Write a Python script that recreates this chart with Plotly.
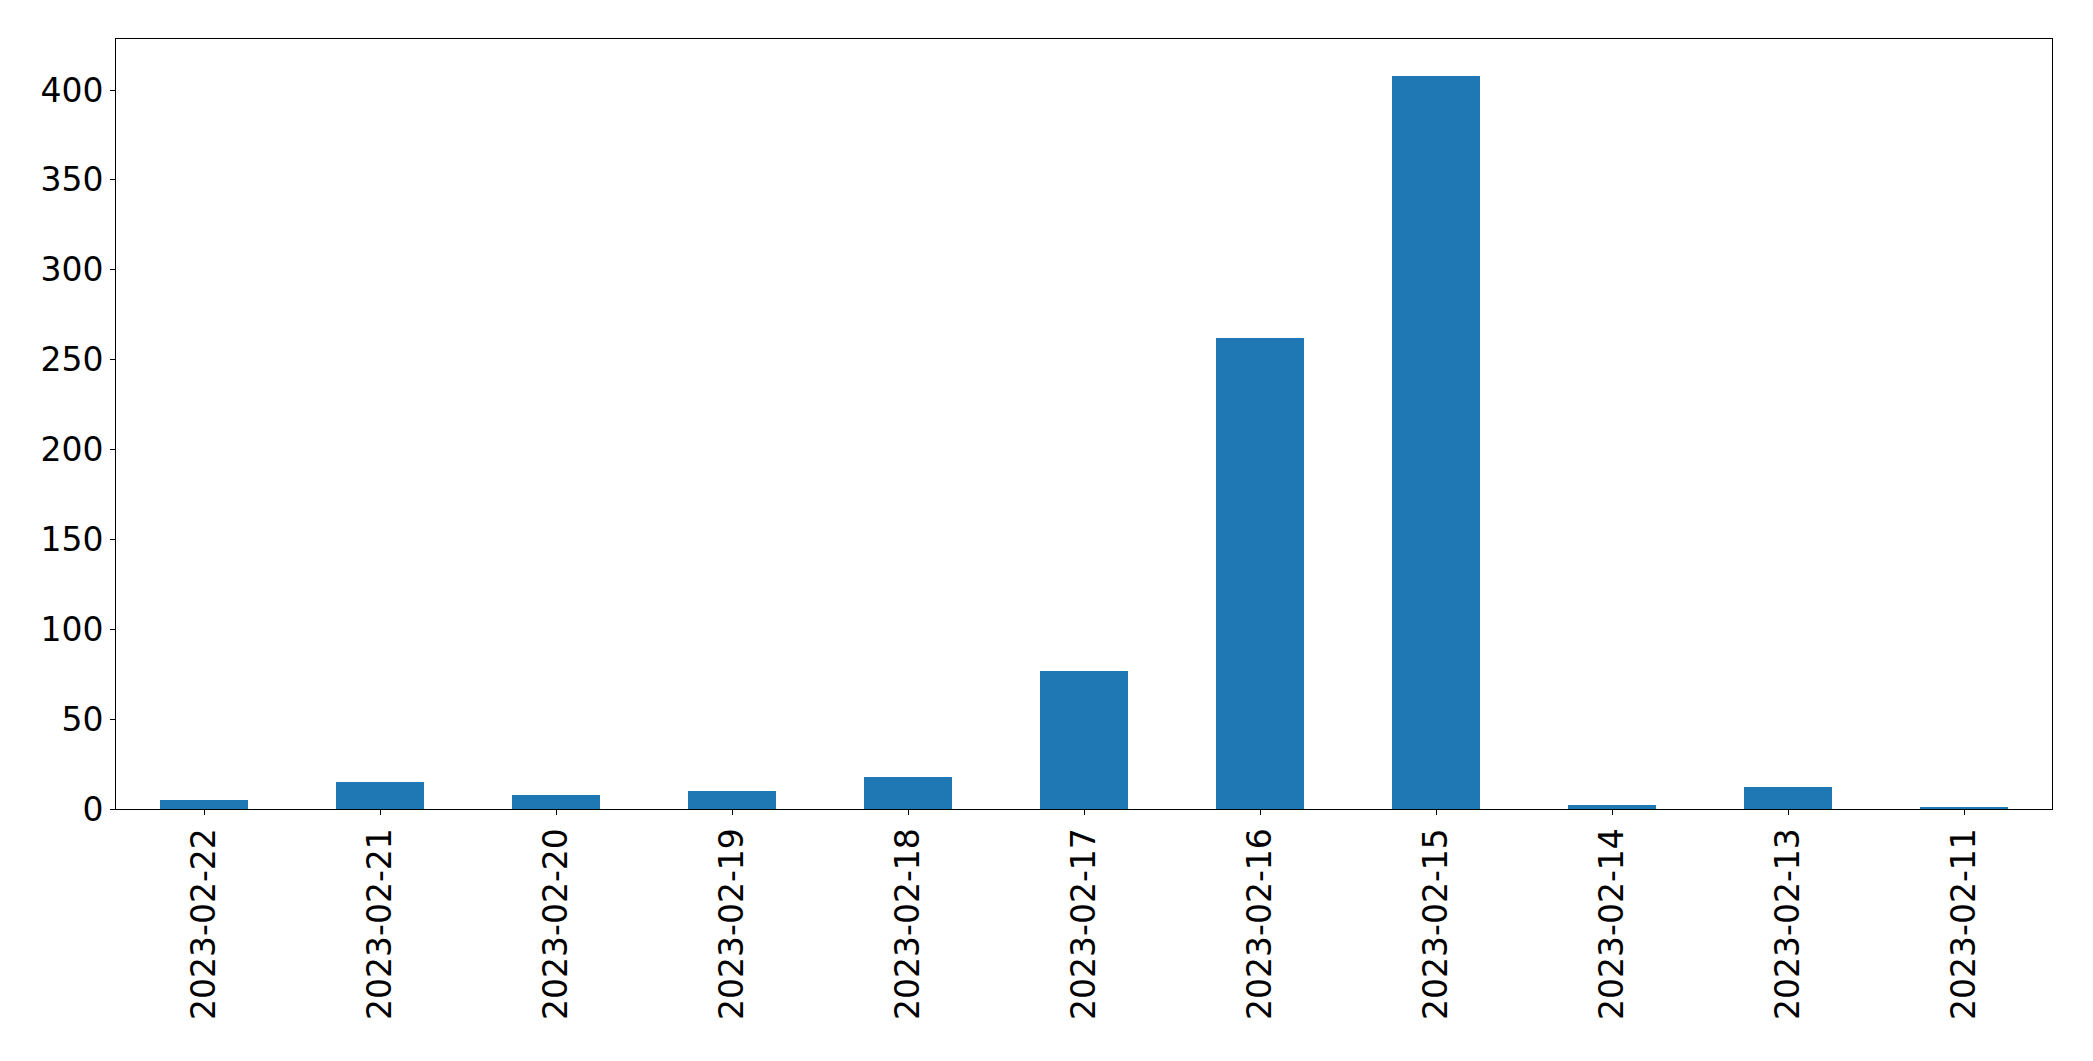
import plotly.graph_objects as go

dates = ["2023-02-22", "2023-02-21", "2023-02-20", "2023-02-19", "2023-02-18",
         "2023-02-17", "2023-02-16", "2023-02-15", "2023-02-14", "2023-02-13",
         "2023-02-11"]
counts = [5, 15, 8, 10, 18, 77, 262, 408, 2, 12, 1]
y_ticks = [0, 50, 100, 150, 200, 250, 300, 350, 400]

fig = go.Figure(go.Bar(x=dates, y=counts, width=0.5, marker_color="#1f77b4",
                       marker_line_width=0))

fig.update_layout(
    width=2077, height=1045,
    margin=dict(l=108, r=33, t=31, b=244, autoexpand=False),
    paper_bgcolor="white", plot_bgcolor="white",
    font=dict(family="DejaVu Sans", size=33, color="black"),
    showlegend=False, bargap=0,
)
fig.update_xaxes(type="category", range=[-0.5, 10.5], tickangle=-90,
                 showline=True, linecolor="black", linewidth=1, mirror=True,
                 ticks="outside", ticklen=5, tickwidth=1, tickcolor="black",
                 ticklabelstandoff=0, showgrid=False, zeroline=False)
fig.update_yaxes(range=[0, 428.4], tickvals=y_ticks,
                 showline=True, linecolor="black", linewidth=1, mirror=True,
                 ticks="outside", ticklen=5, tickwidth=1, tickcolor="black",
                 ticklabelstandoff=0, showgrid=False, zeroline=False)

fig.write_html("out.html")
